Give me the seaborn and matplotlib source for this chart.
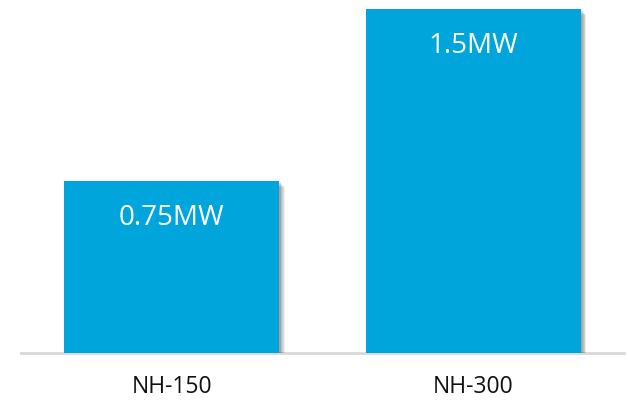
import matplotlib
matplotlib.use("Agg")
import matplotlib.pyplot as plt
import matplotlib.patheffects as pe
import seaborn as sns
import pandas as pd

categories = ["NH-150", "NH-300"]
values = [0.75, 1.5]
value_labels = ["0.75MW", "1.5MW"]

sns.set_style("white")
plt.rcParams['font.family'] = ['Open Sans', 'DejaVu Sans']

df = pd.DataFrame({"model": categories, "power": values})

fig = plt.figure(figsize=(6.28, 4.11), dpi=100)
ax = fig.add_axes([21/628, 58/411, 603/628, 353/411])
sns.barplot(data=df, x="model", y="power", color="#00A6DB", saturation=1,
            width=0.713, ax=ax)

shadow = [pe.SimplePatchShadow(offset=(d, -d), shadow_rgbFace="#000000", alpha=0.07)
          for d in (4.0, 3.4, 2.8, 2.2, 1.6, 1.0)] + [pe.Normal()]
for p in ax.patches:
    p.set_path_effects(shadow)
    p.set_edgecolor("none")
    p.set_zorder(3)

for i, (v, lab) in enumerate(zip(values, value_labels)):
    ax.annotate(lab, xy=(i, v), xytext=(0, -26.5), textcoords="offset points",
                ha="center", va="center", color="white", fontsize=20,
                fontweight="normal", zorder=5)

ax.set_xlim(-0.5, 1.5)
ax.set_ylim(0, 353/229.3)
ax.set_xlabel("")
ax.set_ylabel("")
ax.set_yticks([])
ax.tick_params(axis="x", length=0, pad=16, labelsize=16.5, labelcolor="#111111")
for s in ["top", "left", "right"]:
    ax.spines[s].set_visible(False)
ax.spines["bottom"].set_color("#d9d9d9")
ax.spines["bottom"].set_linewidth(2)
ax.spines["bottom"].set_zorder(1)

fig.savefig("out.png", dpi=100)
